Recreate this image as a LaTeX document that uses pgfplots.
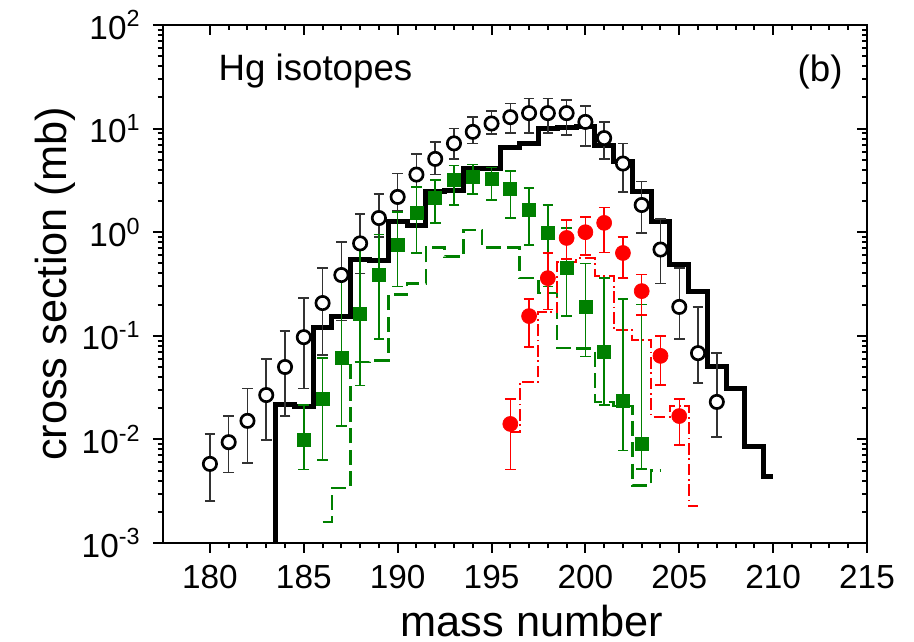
\documentclass[border=0pt]{standalone}
\usepackage{pgfplots}
\pgfplotsset{compat=1.18}
\usepackage{pgfplotstable}
\usepackage{fontspec}
\setmainfont{Liberation Sans}

\definecolor{dgreen}{RGB}{0,128,0}
\definecolor{ebgray}{RGB}{50,50,50}

% measured cross sections: mass number, value, lower and upper end of the error bar
\pgfplotstableread{
x    y       lo       hi
180  0.0058  0.00254  0.0113
181  0.0094  0.0048   0.0168
182  0.0151  0.0059   0.031
183  0.0268  0.0099   0.0597
184  0.050   0.0168   0.111
185  0.097   0.031    0.232
186  0.207   0.065    0.45
187  0.386   0.14     0.80
188  0.78    0.40     1.50
189  1.37    0.90     2.35
190  2.19    1.6      3.7
191  3.6     2.7      5.7
192  5.1     3.6      7.4
193  7.2     5.1      10.0
194  9.3     7.2      12.9
195  11.2    8.9      14.8
196  12.9    9.1      17.4
197  14.1    9.1      19.5
198  14.1    9.1      19.5
199  14.1    8.7      18.9
200  11.6    6.8      16.6
201  8.1     5.1      11.6
202  4.6     2.45     7.2
203  1.83    0.98     3.1
204  0.68    0.32     1.34
205  0.19    0.093    0.45
206  0.068   0.035    0.19
207  0.023   0.0105   0.068
}\dataall

\pgfplotstableread{
x    y       lo       hi
185  0.0099  0.0051   0.0215
186  0.0245  0.0063   0.061
187  0.061   0.0135   0.36
188  0.162   0.033    0.70
189  0.386   0.093    0.95
190  0.75    0.30     1.57
191  1.53    0.63     2.73
192  2.14    1.23     3.19
193  3.19    1.83     4.4
194  3.4     2.35     4.5
195  3.3     2.05     4.2
196  2.6     1.37     3.9
197  1.64    0.75     2.67
198  0.98    0.30     1.83
199  0.45    0.155    1.1
200  0.19    0.063    0.5
201  0.070   0.0215   0.36
202  0.0234  0.0078   0.226
203  0.0090  0.0052   0.20
}\datagreen

\pgfplotstableread{
x    y       lo       hi
196  0.0141  0.0051   0.0245
197  0.155   0.078    0.226
198  0.36    0.18     0.63
199  0.88    0.55     1.31
200  1.0     0.6      1.40
201  1.23    0.64     1.74
202  0.63    0.36     0.9
203  0.27    0.158    0.39
204  0.064   0.0335   0.1
205  0.0168  0.0088   0.0245
}\datared

% model histograms: left bin edge, value (last row closes the final bin)
\pgfplotstableread{
x      y
183.5  0.001
183.5  0.0215
184.5  0.0206
185.5  0.12
186.5  0.155
187.5  0.55
188.5  0.53
189.5  1.26
190.5  1.17
191.5  2.45
192.5  2.5
193.5  4.1
194.5  4.1
195.5  6.6
196.5  7.2
197.5  10.0
198.5  10.3
199.5  10.5
200.5  6.9
201.5  4.8
202.5  2.45
203.5  1.27
204.5  0.49
205.5  0.265
206.5  0.051
207.5  0.031
208.5  0.0086
209.5  0.0044
210.0  0.0044
}\modelall

\pgfplotstableread{
x      y
186.0  0.0016
186.5  0.0034
187.5  0.056
188.5  0.058
189.5  0.25
190.5  0.32
191.5  0.71
192.5  0.58
193.5  1.05
194.5  0.71
195.5  0.71
196.5  0.36
197.5  0.26
198.5  0.076
199.5  0.075
200.5  0.023
201.5  0.021
202.5  0.0036
203.5  0.0050
204.0  0.0050
}\modelgreen

\pgfplotstableread{
x      y
196.0  0.0118
196.5  0.036
197.5  0.17
198.5  0.51
199.5  0.56
200.5  0.38
201.5  0.113
202.5  0.091
203.5  0.0166
204.5  0.021
205.5  0.0023
206.0  0.0023
}\modelred

\pgfplotsset{
  hgframe/.style={
    scale only axis,
    width=211.2pt, height=155.4pt,
    xmin=177.5, xmax=215,
    ymin=1e-3, ymax=1e2,
    xtick={180,185,...,215},
    minor x tick num=4,
    ytick={1e-3,1e-2,1e-1,1,10,100},
    major tick length=3pt,
    minor tick length=1.6pt,
    axis line style={line width=0.6pt},
    every tick/.style={line width=0.6pt, black},
    ticklabel style={font=\fontsize{10}{12}\selectfont},
  },
  errstyle/.style={
    error bars/.cd, y dir=both, y explicit,
    error bar style={line width=0.45pt, #1},
    error mark options={rotate=90, mark size=1.6pt, line width=0.45pt, #1},
  },
}

\begin{document}
\begin{tikzpicture}
\begin{axis}[
  ymode=log,
  hgframe,
  name=main,
  xtick pos=left, ytick pos=left,
  tick align=outside,
  xticklabels={180,185,190,195,200,205,210,215},
  yticklabels={10\textsuperscript{-3},10\textsuperscript{-2},10\textsuperscript{-1},10\textsuperscript{0},10\textsuperscript{1},10\textsuperscript{2}},
  clip=true,
]
% model curves
\addplot[const plot, dgreen, line width=0.75pt, dash pattern=on 4.5pt off 1.9pt] table[x=x,y=y] {\modelgreen};
\addplot[const plot, red, line width=0.6pt, dash pattern=on 3.5pt off 1.1pt on 0.5pt off 1.1pt] table[x=x,y=y] {\modelred};
\addplot[const plot, black, line width=1.5pt] table[x=x,y=y] {\modelall};

% measured values
\addplot[only marks, mark=*, mark size=2pt, mark options={draw=black, fill=white, line width=0.8pt},
  errstyle=ebgray]
  table[x=x, y=y, y error plus expr=\thisrow{hi}-\thisrow{y}, y error minus expr=\thisrow{y}-\thisrow{lo}] {\dataall};
\addplot[only marks, mark=square*, mark size=1.95pt, mark options={draw=dgreen, fill=dgreen, line width=0.2pt},
  errstyle=dgreen]
  table[x=x, y=y, y error plus expr=\thisrow{hi}-\thisrow{y}, y error minus expr=\thisrow{y}-\thisrow{lo}] {\datagreen};
\addplot[only marks, mark=*, mark size=2.25pt, mark options={draw=red, fill=red, line width=0.2pt},
  errstyle=red]
  table[x=x, y=y, y error plus expr=\thisrow{hi}-\thisrow{y}, y error minus expr=\thisrow{y}-\thisrow{lo}] {\datared};

\node[anchor=base west, font=\fontsize{11}{13}\selectfont, inner sep=0pt] at (axis cs:180.43,29.4) {Hg isotopes};
\node[anchor=base east, font=\fontsize{11}{13}\selectfont, inner sep=0pt] at (axis cs:213.73,28.8) {(b)};
\end{axis}

% mirrored ticks on the top and right edges, pointing inwards
\begin{axis}[
  ymode=log,
  hgframe,
  xtick pos=right, ytick pos=right,
  tick align=inside,
  xticklabels={}, yticklabels={},
]
\addplot[draw=none, mark=none] coordinates {(180,1)};
\end{axis}

\node[anchor=base, font=\fontsize{13}{15}\selectfont] at ([xshift=5.1pt, yshift=-28.2pt]main.south) {mass number};
\node[anchor=base, rotate=90, font=\fontsize{13}{15}\selectfont] at ([xshift=-28.8pt]main.west) {cross section (mb)};

\pgfresetboundingbox
\path[use as bounding box] ([xshift=-48.9pt, yshift=-29.7pt]main.south west) rectangle ([xshift=14.1pt, yshift=7.5pt]main.north east);
\end{tikzpicture}
\end{document}
